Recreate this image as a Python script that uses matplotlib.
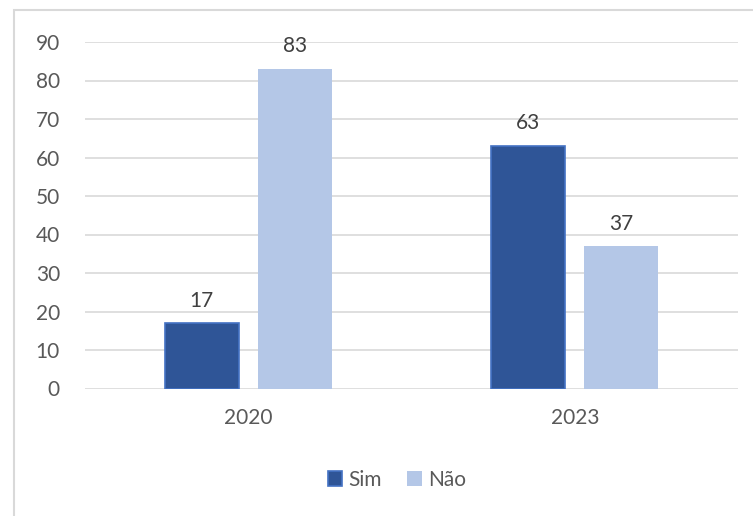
import matplotlib
matplotlib.use('Agg')

import numpy as np
from matplotlib import pyplot as plt
from matplotlib.patches import Rectangle

categories = ['2020', '2023']
sim = [17, 63]
nao = [83, 37]
series_names = ['Sim', 'Não']

plt.rcParams['font.family'] = ['Lato', 'DejaVu Sans']

fig = plt.figure(figsize=(7.53, 5.16), dpi=100)
ax = fig.add_axes([85/753, 127.5/516, 653/753, 346.5/516])

x = np.arange(len(categories))
w = 0.227
b1 = ax.bar(x - 0.143, sim, w, color='#2F5597', edgecolor='#4472C4', linewidth=1.2, label=series_names[0], zorder=3)
b2 = ax.bar(x + 0.143, nao, w, color='#B4C7E7', linewidth=0, label=series_names[1], zorder=3)

for bars in (b1, b2):
    for r in bars:
        ax.annotate('{:d}'.format(int(r.get_height())), (r.get_x() + r.get_width()/2, r.get_height()),
                    xytext=(0, 9), textcoords='offset points', ha='center', va='bottom',
                    fontsize=15, color='#404040')

ax.set_xlim(-0.5, 1.5)
ax.set_ylim(0, 90)
ax.set_yticks(range(0, 91, 10))
ax.set_xticks(x)
ax.set_xticklabels(categories)
ax.tick_params(length=0, labelsize=15, labelcolor='#595959')
ax.tick_params(axis='y', pad=18)
ax.tick_params(axis='x', pad=14)
ax.grid(axis='y', color='#D9D9D9', linewidth=1.2, zorder=0)
for s in ax.spines.values():
    s.set_visible(False)

fig.legend(handles=[b1, b2], loc='center', bbox_to_anchor=(397/753, 1 - 480/516), ncol=2,
           frameon=False, fontsize=15, labelcolor='#595959', handlelength=0.7, handleheight=0.7,
           handletextpad=0.3, columnspacing=1.2)

fig.patches.append(Rectangle((14/753, -0.1), 1.2, 1 - 10/516 + 0.1, transform=fig.transFigure,
                             fill=False, edgecolor='#D9D9D9', linewidth=1.5))

plt.savefig('out.png')
